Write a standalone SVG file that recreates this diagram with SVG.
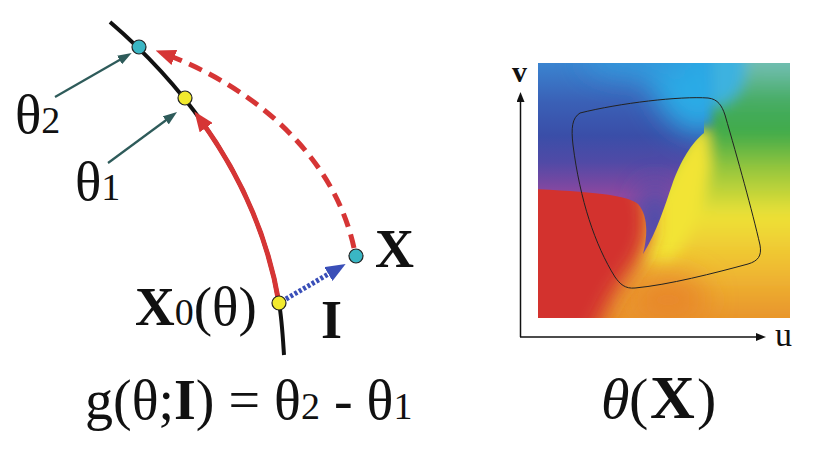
<svg xmlns="http://www.w3.org/2000/svg" width="826" height="453" viewBox="0 0 826 453">
<defs>
<style>
.t{font-family:"Liberation Serif","Times New Roman",serif;fill:#111}
.b{font-weight:bold}
.sub{font-size:38px}
.dot{stroke:#222;stroke-width:1.2}
.teal{stroke:#2e5b5a;stroke-width:2.2;fill:none}
.red{stroke:#d63535;stroke-width:5;fill:none}
.axis{stroke:#111;stroke-width:1.5;fill:none}
</style>
<marker id="mRed" markerUnits="userSpaceOnUse" markerWidth="20" markerHeight="16" refX="10" refY="8" orient="auto" viewBox="0 0 20 16"><path d="M0,0 L20,8 L0,16 Z" fill="#d63535"/></marker>
<marker id="mBlue" markerUnits="userSpaceOnUse" markerWidth="20" markerHeight="16" refX="10" refY="8" orient="auto" viewBox="0 0 20 16"><path d="M0,0 L20,8 L0,16 Z" fill="#3a4fb8"/></marker>
<marker id="mTeal" markerUnits="userSpaceOnUse" markerWidth="14" markerHeight="10" refX="4" refY="5" orient="auto" viewBox="0 0 14 10"><path d="M0,0 L14,5 L0,10 Z" fill="#2e5b5a"/></marker>
<marker id="mBlk" markerUnits="userSpaceOnUse" markerWidth="10" markerHeight="8" refX="2" refY="4" orient="auto" viewBox="0 0 10 8"><path d="M0,0 L10,4 L0,8 Z" fill="#111"/></marker>
<clipPath id="sq"><rect x="538" y="63" width="252" height="255"/></clipPath>
<filter id="blur5" filterUnits="userSpaceOnUse" x="460" y="0" width="400" height="400"><feGaussianBlur stdDeviation="5"/></filter>
<filter id="blur7" filterUnits="userSpaceOnUse" x="460" y="0" width="400" height="400"><feGaussianBlur stdDeviation="7"/></filter>
<filter id="blur10" filterUnits="userSpaceOnUse" x="460" y="0" width="400" height="400"><feGaussianBlur stdDeviation="10"/></filter>
<filter id="blur14" filterUnits="userSpaceOnUse" x="460" y="0" width="400" height="400"><feGaussianBlur stdDeviation="14"/></filter>
<mask id="Lmask" maskUnits="userSpaceOnUse" x="460" y="0" width="400" height="400">
<path fill="#fff" d="M530,55 L704,55 L704,133 C692,142 680,162 672,185 C665,205 657,232 643,254 C648,235 648,215 638,204 C628,196 600,192 530,189 Z"/>
<rect x="600" y="30" width="112" height="96" fill="#fff" filter="url(#blur5)"/>
</mask>
<linearGradient id="gR" x1="0" y1="63" x2="0" y2="318" gradientUnits="userSpaceOnUse">
<stop offset="0" stop-color="#72beb4"/>
<stop offset="0.15" stop-color="#46ac62"/>
<stop offset="0.27" stop-color="#3eaa4a"/>
<stop offset="0.42" stop-color="#98c73c"/>
<stop offset="0.6" stop-color="#eee236"/>
<stop offset="0.78" stop-color="#f0c032"/>
<stop offset="1" stop-color="#e8942c"/>
</linearGradient>
<linearGradient id="gL" x1="0" y1="63" x2="0" y2="195" gradientUnits="userSpaceOnUse">
<stop offset="0" stop-color="#3a84d0"/>
<stop offset="0.3" stop-color="#3a60b6"/>
<stop offset="0.55" stop-color="#3a4ea8"/>
<stop offset="0.75" stop-color="#504aa6"/>
<stop offset="0.9" stop-color="#7448a2"/>
<stop offset="1" stop-color="#8e48a0"/>
</linearGradient>
</defs>
<rect width="826" height="453" fill="#fff"/>

<!-- phase map -->
<g id="phase-map" clip-path="url(#sq)">
<g filter="url(#blur7)">
<rect x="480" y="20" width="360" height="340" fill="url(#gR)"/>
<ellipse cx="712" cy="66" rx="34" ry="40" fill="#3cb2e0"/>
<path d="M636,262 L652,215 L674,165 L697,127 L708,133 L711,165 L704,200 L690,235 L672,262 Z" fill="#f2e436"/>
</g>
<ellipse cx="668" cy="300" rx="40" ry="26" fill="#e8882c" filter="url(#blur14)"/>
<path d="M480,165 L636,168 L649,205 L649,235 L641,258 L614,295 L588,345 L480,345 Z" fill="#d3302e" filter="url(#blur10)"/>
<g mask="url(#Lmask)">
<rect x="530" y="40" width="200" height="230" fill="url(#gL)"/>
<g filter="url(#blur14)">
<ellipse cx="690" cy="78" rx="40" ry="58" transform="rotate(-20 690 78)" fill="#2aabe6"/>
<ellipse cx="640" cy="58" rx="55" ry="18" fill="#3098dc"/>
<ellipse cx="655" cy="222" rx="16" ry="38" fill="#4050ac"/>
</g>
</g>
<path d="M580,113 C620,103 680,96 708,98 C718,99 722,106 725,115 C738,160 752,210 760,245 C762,256 758,261 748,264 C715,273 668,285 635,288 C625,289 620,284 615,277 C595,245 580,200 573,145 C571,128 572,118 580,113 Z" fill="none" stroke="#222" stroke-width="1"/>
</g>

<!-- axes -->
<g id="axes">
<path class="axis" d="M520.5,337 L520.5,100" marker-end="url(#mBlk)"/>
<path class="axis" d="M520,337 L758,337" marker-end="url(#mBlk)"/>
<text class="t b" x="512" y="82" font-size="30">v</text>
<text class="t" x="775" y="346" font-size="34">u</text>
</g>

<!-- connectors -->
<g id="connectors">
<path d="M110,22 C160,65 255,160 279,303 C282,320 283,340 284,355" fill="none" stroke="#111" stroke-width="4"/>
<path class="red" d="M279,303 C266.5,228.6 234.8,167.2 200.3,119.5" marker-end="url(#mRed)"/>
<path class="red" d="M354,248 C335,160 260,90 165,54" stroke-dasharray="14,8" marker-end="url(#mRed)"/>
<path d="M286,299 L337,269" fill="none" stroke="#3a4fb8" stroke-width="5" stroke-dasharray="3,2" marker-end="url(#mBlue)"/>
<path class="teal" d="M55,97 L123,58" marker-end="url(#mTeal)"/>
<path class="teal" d="M108,163 L169,118" marker-end="url(#mTeal)"/>
</g>

<!-- nodes -->
<g id="theta2">
<circle class="dot" cx="139" cy="47" r="7" fill="#3ab6c4"/>
<text class="t" x="15" y="133" font-size="55">θ<tspan class="sub">2</tspan></text>
</g>
<g id="theta1">
<circle class="dot" cx="185" cy="98" r="7" fill="#f2ea2e"/>
<text class="t" x="75" y="200" font-size="55">θ<tspan class="sub">1</tspan></text>
</g>
<g id="x0">
<circle class="dot" cx="279" cy="303" r="7" fill="#f2ea2e"/>
<text class="t" x="135" y="325" font-size="55"><tspan class="b">X</tspan><tspan class="sub">0</tspan>(θ)</text>
</g>
<g id="x">
<circle class="dot" cx="356" cy="256" r="7" fill="#3ab6c4"/>
<text class="t b" x="375" y="267" font-size="54">X</text>
</g>
<g id="i-label">
<text class="t b" x="321" y="338" font-size="54">I</text>
</g>

<g id="formula-left">
<text class="t" x="85" y="419" font-size="56">g(θ;<tspan class="b">I</tspan>) = θ<tspan class="sub">2</tspan> - θ<tspan class="sub">1</tspan></text>
</g>
<g id="formula-right">
<text class="t" y="418" font-size="58"><tspan x="601" font-style="italic">θ</tspan><tspan x="629">(</tspan><tspan x="650" class="b" font-size="62">X</tspan><tspan x="697">)</tspan></text>
</g>
</svg>
